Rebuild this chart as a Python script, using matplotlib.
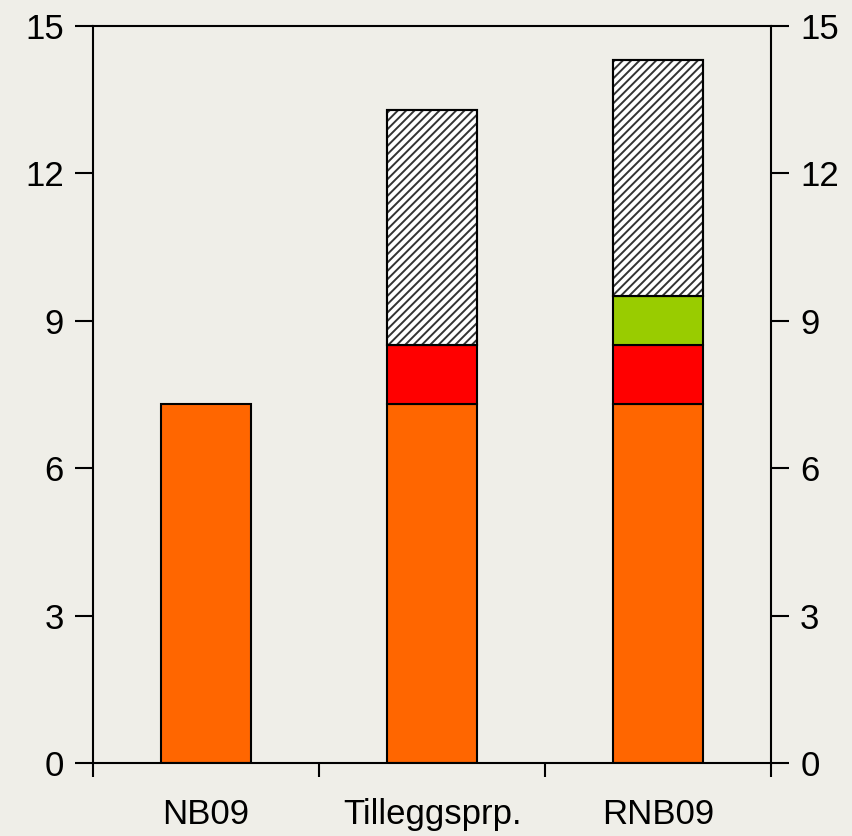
import numpy as np
import matplotlib.pyplot as plt

plt.rcParams['font.family'] = ['Liberation Sans', 'DejaVu Sans']
plt.rcParams['hatch.linewidth'] = 1.4

categories = ['NB09', 'Tilleggsprp.', 'RNB09']
orange = [7.3, 7.3, 7.3]
red = [0.0, 1.2, 1.2]
green = [0.0, 0.0, 1.0]
hatched = [0.0, 4.8, 4.8]

bg = '#efeee8'
fig = plt.figure(figsize=(8.52, 8.36), dpi=100, facecolor=bg)
ax = fig.add_axes([93/852, 1 - 763/836, (771-93)/852, (763-26)/836])
ax.set_facecolor(bg)

x = np.arange(len(categories))
w = 0.4
ax.bar(x, orange, w, color='#ff6600', edgecolor='black', linewidth=1.5, zorder=2)
b = np.array(orange)
for vals, col in [(red, '#ff0000'), (green, '#99cc00')]:
    v = np.array(vals)
    m = v > 0
    ax.bar(x[m], v[m], w, bottom=b[m], color=col, edgecolor='black', linewidth=1.5, zorder=2)
    b = b + v
v = np.array(hatched)
m = v > 0
ax.bar(x[m], v[m], w, bottom=b[m], color='white', edgecolor='#333333', hatch='////',
       linewidth=1.5, zorder=2)
ax.bar(x[m], v[m], w, bottom=b[m], fill=False, edgecolor='black', linewidth=1.5, zorder=3)

ax.set_xlim(-0.5, 2.5)
ax.set_ylim(0, 15)
ax.set_yticks([0, 3, 6, 9, 12, 15])
ax.set_xticks([-0.5, 0.5, 1.5, 2.5])
ax.set_xticklabels([])
ax.set_xticks(x, minor=True)
ax.set_xticklabels(categories, minor=True)
ax.tick_params(axis='x', which='major', direction='out', length=10, width=1.5)
ax.tick_params(axis='x', which='minor', length=0, pad=25, labelsize=25)
ax.tick_params(axis='y', direction='out', length=13, width=1.5, labelsize=25,
               right=True, labelright=True, pad=8)
for s in ax.spines.values():
    s.set_linewidth(1.5)

fig.savefig('out.png', dpi=100, facecolor=bg)
